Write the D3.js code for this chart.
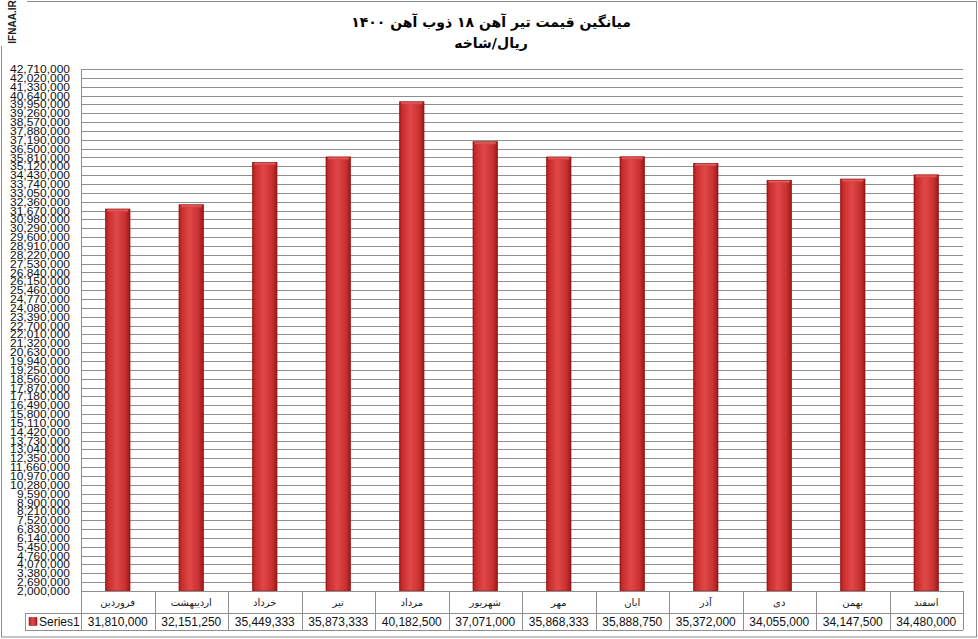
<!DOCTYPE html>
<html><head><meta charset="utf-8">
<script src="https://cdn.jsdelivr.net/npm/d3@7"></script>
<style>body{margin:0;background:#fff}svg{display:block}</style>
</head><body>
<svg id="c" width="978" height="639"></svg>
<script>
const categories = ["فروردین","اردیبهشت","خرداد","تیر","مرداد","شهریور","مهر","ابان","آذر","دی","بهمن","اسفند"];
const values = [31810000,32151250,35449333,35873333,40182500,37071000,35868333,35888750,35372000,34055000,34147500,34480000];
const seriesName = "Series1";
const titleLines = ["میانگین قیمت تیر آهن ۱۸ ذوب آهن ۱۴۰۰","ریال/شاخه"];
const yMin = 2000000, yMax = 42710000, yStep = 690000;
const yTicks = d3.range(yMin, yMax + 1, yStep);

const svg = d3.select("#c");
const L = 81, R = 963, T = 69, B = 591;
const row1 = 613, row2 = 630;

const defs = svg.append("defs");
const g1 = defs.append("linearGradient").attr("id","bar").attr("x1",0).attr("x2",1).attr("y1",0).attr("y2",0);
[["0%","#a81c1c"],["12%","#c92d2d"],["45%","#e04848"],["80%","#c93030"],["100%","#9a1818"]].forEach(s=>g1.append("stop").attr("offset",s[0]).attr("stop-color",s[1]));
const g2 = defs.append("linearGradient").attr("id","barTop").attr("x1",0).attr("x2",0).attr("y1",0).attr("y2",1);
[["0%","#f07a7a"],["100%","#d84040"]].forEach(s=>g2.append("stop").attr("offset",s[0]).attr("stop-color",s[1]));

// frame
svg.append("rect").attr("x",1.5).attr("y",1.5).attr("width",975).attr("height",635.5).attr("fill","#fff").attr("stroke","#8c8c8c").attr("stroke-width",1);
svg.append("rect").attr("x",0).attr("y",0).attr("width",27).attr("height",46).attr("fill","#fff");
svg.append("text").attr("transform","translate(16,22) rotate(-90)").attr("text-anchor","middle")
  .attr("font-family","Liberation Sans, Arial, sans-serif").attr("font-weight","bold").attr("font-size",10).attr("fill","#222").text("IFNAA.IR");

const x = d3.scaleBand().domain(categories).range([L, R]).paddingInner(0).paddingOuter(0);
const y = d3.scaleLinear().domain([yMin, yMax]).range([B, T]);

// gridlines
svg.append("g").selectAll("line").data(yTicks).join("line")
  .attr("x1",L).attr("x2",R).attr("y1",d=>Math.round(y(d))+0.5).attr("y2",d=>Math.round(y(d))+0.5)
  .attr("stroke","#8f8f8f").attr("stroke-width",1);

// y axis labels
const yAxis = d3.axisLeft(y).tickValues(yTicks).tickSize(0).tickPadding(0).tickFormat(d3.format(","));
const ya = svg.append("g").attr("transform",`translate(${L-11},0)`).call(yAxis);
ya.select(".domain").remove();
ya.selectAll("text").attr("font-family","Liberation Sans, Arial, sans-serif").attr("font-size",11)
  .attr("textLength",d=>d>=10000000?60:53).attr("lengthAdjust","spacingAndGlyphs").attr("fill","#111");

// axis line
svg.append("line").attr("x1",L+0.5).attr("x2",L+0.5).attr("y1",T).attr("y2",row2).attr("stroke","#8f8f8f");
svg.append("line").attr("x1",R+0.5).attr("x2",R+0.5).attr("y1",B).attr("y2",row2).attr("stroke","#8f8f8f");

// bars
const bw = x.bandwidth()*0.34;
const bars = svg.append("g").selectAll("g").data(values).join("g");
bars.append("rect").attr("x",(d,i)=>x(categories[i])+x.bandwidth()/2-bw/2).attr("y",d=>y(d))
  .attr("width",bw).attr("height",d=>B-y(d)).attr("fill","url(#bar)");
bars.append("rect").attr("x",(d,i)=>x(categories[i])+x.bandwidth()/2-bw/2+2).attr("y",d=>y(d))
  .attr("width",bw-4).attr("height",3).attr("fill","url(#barTop)");
bars.append("rect").attr("x",(d,i)=>x(categories[i])+x.bandwidth()/2-bw/2+0.5).attr("y",d=>y(d)+0.5)
  .attr("width",bw-1).attr("height",d=>B-y(d)-0.5).attr("fill","none").attr("stroke","#8a1515").attr("stroke-opacity",0.6);

// data table
const tbl = svg.append("g");
tbl.append("line").attr("x1",L).attr("x2",R).attr("y1",B+0.5).attr("y2",B+0.5).attr("stroke","#8f8f8f");
tbl.append("line").attr("x1",25).attr("x2",R).attr("y1",row1+0.5).attr("y2",row1+0.5).attr("stroke","#8f8f8f");
tbl.append("line").attr("x1",25).attr("x2",R).attr("y1",row2+0.5).attr("y2",row2+0.5).attr("stroke","#8f8f8f");
tbl.append("line").attr("x1",25.5).attr("x2",25.5).attr("y1",row1).attr("y2",row2).attr("stroke","#8f8f8f");
tbl.selectAll(".sep").data(categories.slice(1)).join("line").attr("class","sep")
  .attr("x1",d=>Math.round(x(d))+0.5).attr("x2",d=>Math.round(x(d))+0.5).attr("y1",B).attr("y2",row2).attr("stroke","#8f8f8f");
tbl.selectAll(".cat").data(categories).join("text").attr("class","cat")
  .attr("x",d=>x(d)+x.bandwidth()/2).attr("y",(B+row1)/2+4).attr("text-anchor","middle")
  .attr("font-family","DejaVu Sans, sans-serif").attr("font-size",10).attr("fill","#222").text(d=>d);
tbl.selectAll(".val").data(values).join("text").attr("class","val")
  .attr("x",(d,i)=>x(categories[i])+x.bandwidth()/2).attr("y",(row1+row2)/2+4.5).attr("text-anchor","middle")
  .attr("font-family","Liberation Sans, Arial, sans-serif").attr("font-size",12).attr("fill","#111").text(d=>d3.format(",")(d));
tbl.append("rect").attr("x",29).attr("y",(row1+row2)/2-4).attr("width",8).attr("height",8).attr("fill","url(#bar)").attr("stroke","#8a1515").attr("stroke-width",0.5);
tbl.append("text").attr("x",39).attr("y",(row1+row2)/2+4.5).attr("font-family","Liberation Sans, Arial, sans-serif")
  .attr("font-size",12).attr("fill","#111").text(seriesName);

// title
svg.append("g").selectAll("text").data(titleLines).join("text")
  .attr("x",491).attr("y",(d,i)=>27+i*21).attr("text-anchor","middle").attr("direction","rtl")
  .attr("font-family","DejaVu Sans, sans-serif").attr("font-weight","bold").attr("font-size",14).attr("fill","#000").text(d=>d);
</script>
</body></html>
